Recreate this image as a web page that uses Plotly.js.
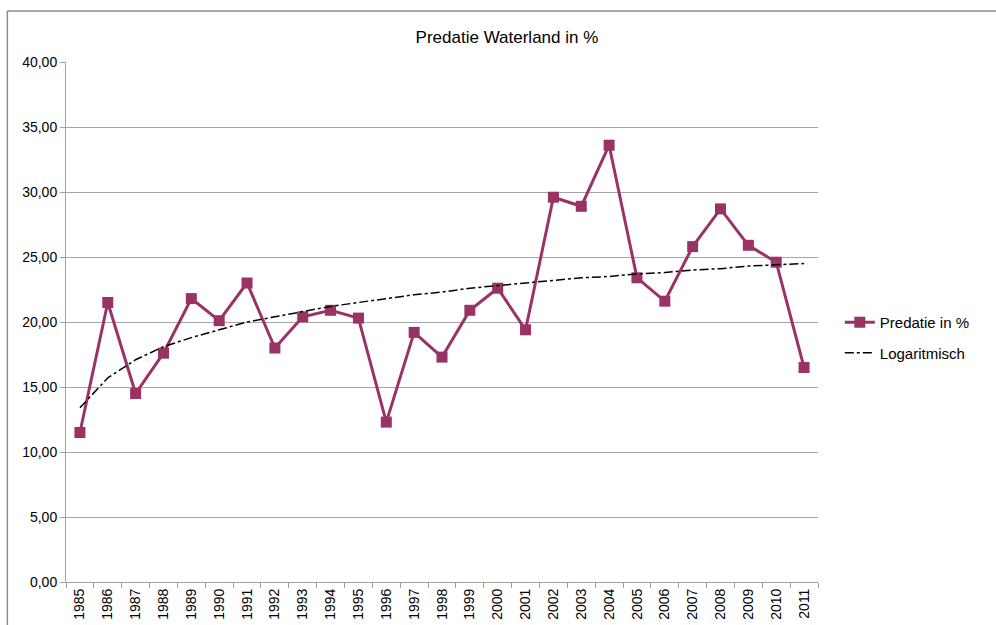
<!DOCTYPE html>
<html>
<head>
<meta charset="utf-8">
<script src="https://cdn.plot.ly/plotly-3.0.1.min.js"></script>
<style>html,body{margin:0;padding:0;background:#fff;}#chart{width:996px;height:625px;}</style>
</head>
<body>
<div id="chart"></div>
<script>
const years = ['1985','1986','1987','1988','1989','1990','1991','1992','1993','1994','1995','1996','1997','1998','1999','2000','2001','2002','2003','2004','2005','2006','2007','2008','2009','2010','2011'];
const predatie = [11.5, 21.5, 14.5, 17.6, 21.8, 20.1, 23.0, 18.0, 20.4, 20.9, 20.3, 12.3, 19.2, 17.3, 20.9, 22.6, 19.4, 29.6, 28.9, 33.6, 23.4, 21.6, 25.8, 28.7, 25.9, 24.6, 16.5];
const logaritmisch = [13.4, 15.7, 17.1, 18.1, 18.8, 19.4, 20.0, 20.4, 20.8, 21.2, 21.5, 21.8, 22.1, 22.3, 22.6, 22.8, 23.0, 23.2, 23.4, 23.5, 23.7, 23.8, 24.0, 24.1, 24.3, 24.4, 24.5];
const seriesNames = ['Predatie in %', 'Logaritmisch'];
const chartTitle = 'Predatie Waterland in %';

const traces = [
  {x: years, y: predatie, name: seriesNames[0], type: 'scatter', mode: 'lines+markers', legendgroup: 'a',
   line: {color: '#993366', width: 3}, marker: {symbol: 'square', size: 11, color: '#993366'}},
  {x: years, y: logaritmisch, name: seriesNames[1], type: 'scatter', mode: 'lines', legendgroup: 'b',
   line: {color: '#000000', width: 1.5, dash: 'dashdot'}}
];

const layout = {
  width: 996, height: 625,
  margin: {l: 66, r: 178, t: 62, b: 43},
  paper_bgcolor: '#ffffff', plot_bgcolor: '#ffffff',
  separators: ',.',
  title: {text: chartTitle, x: 0.509, xref: 'container', y: 0.94, yanchor: 'middle',
          font: {family: 'Liberation Sans Narrow, Arial Narrow, Liberation Sans, sans-serif', size: 17, color: '#000'}},
  xaxis: {type: 'category', range: [-0.5, 26.5], tickson: 'boundaries', ticks: 'outside', ticklen: 5,
          tickcolor: '#a0a0a0', showline: true, linecolor: '#a0a0a0', linewidth: 1, showgrid: false,
          tickangle: -90, tickfont: {family: 'Liberation Sans, Arial, sans-serif', size: 14, color: '#000'},
          zeroline: false, fixedrange: true},
  yaxis: {range: [0, 40], dtick: 5, tickformat: '.2f', ticks: 'outside', ticklen: 5, tickcolor: '#a0a0a0',
          showline: true, linecolor: '#a0a0a0', linewidth: 1, showgrid: true, gridcolor: '#a6a6a6', gridwidth: 1,
          zeroline: false, tickfont: {family: 'Liberation Sans, Arial, sans-serif', size: 14, color: '#000'}},
  legend: {x: 1.029, y: 0.47, xanchor: 'left', yanchor: 'middle', bgcolor: 'rgba(0,0,0,0)',
           traceorder: 'grouped',
           font: {family: 'Liberation Sans Narrow, Arial Narrow, Liberation Sans, sans-serif', size: 15, color: '#000'},
           tracegroupgap: 8},
  shapes: [
    {type: 'line', xref: 'paper', yref: 'paper', x0: -0.078, x1: 1.4, y0: 1.098, y1: 1.098, line: {color: '#8c8c8c', width: 1.5}},
    {type: 'line', xref: 'paper', yref: 'paper', x0: -0.078, x1: -0.078, y0: 1.098, y1: -0.2, line: {color: '#8c8c8c', width: 1.5}}
  ],
  showlegend: true
};

Plotly.newPlot('chart', traces, layout, {displayModeBar: false, staticPlot: true});
</script>
</body>
</html>
